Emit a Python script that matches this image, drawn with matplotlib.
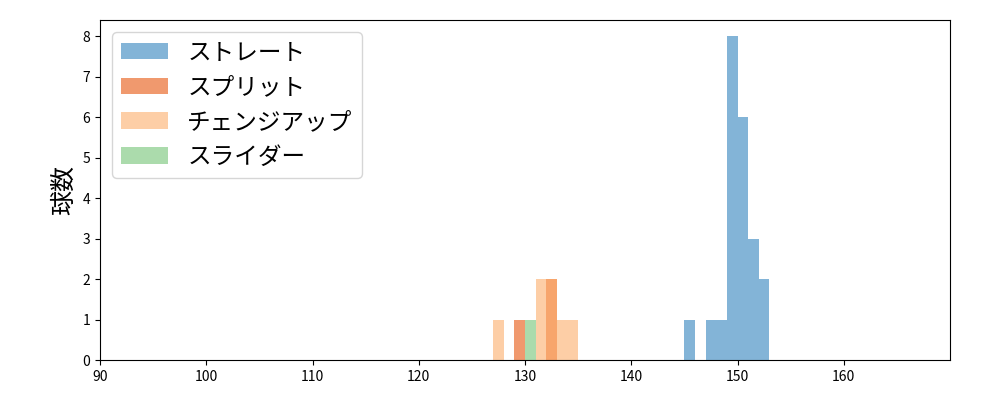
import matplotlib.pyplot as plt

plt.rcParams['font.family'] = ['Noto Sans CJK JP', 'DejaVu Sans']

# bin left edges (km/h) and counts per pitch type
straight_bins = [145, 146, 147, 148, 149, 150, 151, 152]
straight_counts = [1, 0, 1, 1, 8, 6, 3, 2]
split_bins = [129, 130, 131, 132]
split_counts = [1, 0, 0, 2]
changeup_bins = [127, 128, 129, 130, 131, 132, 133, 134]
changeup_counts = [1, 0, 0, 0, 2, 2, 1, 1]
slider_bins = [130]
slider_counts = [1]

labels = ['ストレート', 'スプリット', 'チェンジアップ', 'スライダー']
colors = ['#3182bd', '#e6550d', '#fdae6b', '#74c476']

fig, ax = plt.subplots(figsize=(10, 4), dpi=100)
fig.subplots_adjust(left=0.1, right=0.95, bottom=0.1, top=0.95)

series = [(straight_bins, straight_counts), (split_bins, split_counts),
          (changeup_bins, changeup_counts), (slider_bins, slider_counts)]
for (bins, counts), lab, c in zip(series, labels, colors):
    ax.bar(bins, counts, width=1.0, align='edge', color=c, alpha=0.6, label=lab)

ax.set_xlim(90, 170)
ax.set_ylim(0, 8.4)
ax.set_xticks(range(90, 170, 10))
ax.set_yticks(range(0, 9))
ax.set_ylabel('球数', fontsize=18)
ax.legend(loc='upper left', fontsize=17)

plt.savefig('out.png')
